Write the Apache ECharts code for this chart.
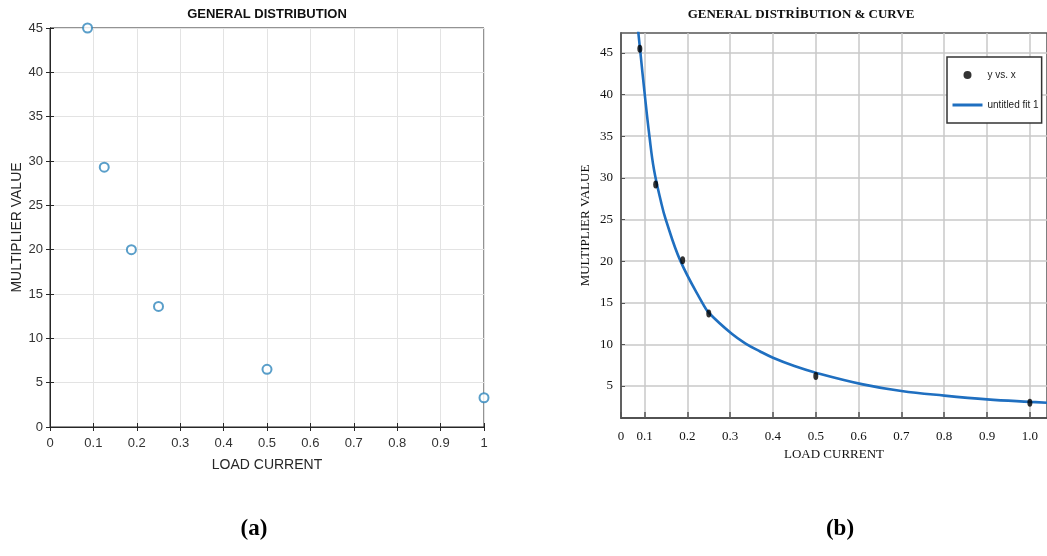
<!DOCTYPE html>
<html>
<head>
<meta charset="utf-8">
<script src="https://cdn.jsdelivr.net/npm/echarts@6/dist/echarts.min.js"></script>
<style>html,body{margin:0;padding:0;background:#fff}#c{width:1047px;height:556px}</style>
</head>
<body>
<div id="c"></div>
<script>
// ---- Data ----
var loadCurrentA = [0.0865, 0.125, 0.1875, 0.25, 0.5, 1.0];
var multiplierA  = [45, 29.3, 20, 13.6, 6.5, 3.3];

var loadCurrentB = [0.089, 0.126, 0.189, 0.25, 0.5, 1.0];
var multiplierB  = [45.5, 29.2, 20.1, 13.7, 6.2, 3.0];

var fitX = [0.0848, 0.0904, 0.1005, 0.1114, 0.122, 0.139, 0.1495, 0.184, 0.237, 0.25, 0.303, 0.336, 0.37, 0.4, 0.45, 0.5, 0.61, 0.7, 0.8, 0.9, 1.0, 1.04];
var fitY = [47.8, 45, 40, 35, 31, 27, 25, 20, 14.8, 13.8, 11.3, 10.1, 9.15, 8.4, 7.4, 6.6, 5.2, 4.4, 3.85, 3.4, 3.1, 3.0];

var xTicksA = [0, 0.1, 0.2, 0.3, 0.4, 0.5, 0.6, 0.7, 0.8, 0.9, 1];
var yTicksA = [0, 5, 10, 15, 20, 25, 30, 35, 40, 45];
var xTicksB = [0.045, 0.1, 0.2, 0.3, 0.4, 0.5, 0.6, 0.7, 0.8, 0.9, 1.0];
var xTickLabelsB = ['0', '0.1', '0.2', '0.3', '0.4', '0.5', '0.6', '0.7', '0.8', '0.9', '1.0'];
var yTicksB = [5, 10, 15, 20, 25, 30, 35, 40, 45];

function zip(a, b) { return a.map(function (v, i) { return [v, b[i]]; }); }

var sans = 'Liberation Sans, Arial, sans-serif';
var serif = 'Liberation Serif, Times New Roman, serif';

var chart = echarts.init(document.getElementById('c'));
chart.setOption({
  animation: false,
  backgroundColor: '#fff',
  grid: [
    { left: 50, top: 28, width: 434, height: 399, show: true, borderColor: '#262626', borderWidth: 1, backgroundColor: 'transparent' },
    { left: 621, top: 33, width: 426, height: 385, show: true, borderColor: '#555', borderWidth: 1.5, backgroundColor: 'transparent' }
  ],
  xAxis: [
    { gridIndex: 0, type: 'value', min: 0, max: 1, interval: 0.1, position: 'bottom',
      name: 'LOAD CURRENT', nameLocation: 'middle', nameGap: 31,
      nameTextStyle: { fontFamily: sans, fontSize: 14, color: '#262626' },
      axisLine: { show: true, lineStyle: { color: '#262626', width: 1 } },
      axisTick: { show: true, inside: true, length: 4, lineStyle: { color: '#262626' } },
      axisLabel: { fontFamily: sans, fontSize: 13, color: '#333', margin: 10,
        formatter: function (v) { var i = xTicksA.findIndex(function (t) { return Math.abs(t - v) < 1e-6; }); return i >= 0 ? String(xTicksA[i]) : ''; } },
      splitLine: { show: true, lineStyle: { color: '#e3e3e3', width: 1 } } },
    { gridIndex: 0, type: 'value', min: 0, max: 1, interval: 0.1, position: 'top',
      axisLine: { show: true, lineStyle: { color: '#262626' } },
      axisTick: { show: true, inside: true, length: 4, lineStyle: { color: '#262626' } },
      axisLabel: { show: false }, splitLine: { show: false } },
    { gridIndex: 1, type: 'value', min: 0.045, max: 1.04, position: 'bottom',
      name: 'LOAD CURRENT', nameLocation: 'middle', nameGap: 30,
      nameTextStyle: { fontFamily: serif, fontSize: 13, color: '#111' },
      axisLine: { show: true, onZero: false, lineStyle: { color: '#444', width: 1.5 } },
      axisTick: { show: true, inside: true, length: 6, customValues: xTicksB, lineStyle: { color: '#555', width: 1.5 } },
      axisLabel: { fontFamily: serif, fontSize: 13, color: '#111', margin: 12, customValues: xTicksB,
        formatter: function (v) { var i = xTicksB.findIndex(function (t) { return Math.abs(t - v) < 1e-6; }); return i >= 0 ? xTickLabelsB[i] : ''; } },
      splitLine: { show: true, lineStyle: { color: '#c8c8c8', width: 1.5 } } }
  ],
  yAxis: [
    { gridIndex: 0, type: 'value', min: 0, max: 45, interval: 5,
      name: 'MULTIPLIER VALUE', nameLocation: 'middle', nameGap: 25, nameRotate: 90,
      nameTextStyle: { fontFamily: sans, fontSize: 14, color: '#262626' },
      axisLine: { show: true, lineStyle: { color: '#262626' } },
      axisTick: { show: true, inside: true, length: 4, lineStyle: { color: '#262626' } },
      axisLabel: { fontFamily: sans, fontSize: 13, color: '#333', margin: 7 },
      splitLine: { show: true, lineStyle: { color: '#e3e3e3', width: 1 } } },
    { gridIndex: 0, type: 'value', min: 0, max: 45, interval: 5, position: 'right',
      axisLine: { show: true, lineStyle: { color: '#262626' } },
      axisTick: { show: true, inside: true, length: 4, lineStyle: { color: '#262626' } },
      axisLabel: { show: false }, splitLine: { show: false } },
    { gridIndex: 1, type: 'value', min: 1.16, max: 47.4,
      name: 'MULTIPLIER VALUE', nameLocation: 'middle', nameGap: 29, nameRotate: 90,
      nameTextStyle: { fontFamily: serif, fontSize: 13, color: '#111' },
      axisLine: { show: true, onZero: false, lineStyle: { color: '#444', width: 1.5 } },
      axisTick: { show: true, inside: true, length: 4, customValues: yTicksB, lineStyle: { color: '#555' } },
      axisLabel: { fontFamily: serif, fontSize: 13, color: '#111', margin: 8, customValues: yTicksB },
      splitLine: { show: true, lineStyle: { color: '#c8c8c8', width: 1.5 } } }
  ],
  legend: {
    left: 947, top: 57, orient: 'vertical', align: 'left',
    backgroundColor: '#fff', borderColor: '#333', borderWidth: 1.5,
    padding: [13, 3, 13, 4], itemGap: 20, itemWidth: 30, itemHeight: 8,
    textStyle: { fontFamily: sans, fontSize: 10, color: '#222' },
    data: [
      { name: 'y vs. x', icon: 'circle', itemStyle: { color: '#000' } },
      { name: 'untitled fit 1', itemStyle: { opacity: 0 }, lineStyle: { color: '#1f6fc0', width: 3 } }
    ]
  },
  graphic: [
    { type: 'text', style: { text: 'GENERAL DISTRIBUTION', x: 267, y: 8, align: 'center', font: 'bold 13px ' + sans, fill: '#111' } },
    { type: 'text', style: { text: 'GENERAL DISTRİBUTION & CURVE', x: 801, y: 8, align: 'center', font: 'bold 13px ' + serif, fill: '#111' } },
    { type: 'text', style: { text: '(a)', x: 254, y: 518, align: 'center', font: 'bold 23px ' + serif, fill: '#000' } },
    { type: 'text', style: { text: '(b)', x: 840, y: 518, align: 'center', font: 'bold 23px ' + serif, fill: '#000' } }
  ],
  series: [
    { type: 'scatter', xAxisIndex: 0, yAxisIndex: 0, data: zip(loadCurrentA, multiplierA),
      symbol: 'emptyCircle', symbolSize: 9,
      itemStyle: { color: '#2f86bb', borderWidth: 1.1 } },
    { type: 'line', name: 'untitled fit 1', xAxisIndex: 2, yAxisIndex: 2, data: zip(fitX, fitY),
      smooth: 0.4, showSymbol: false, symbol: 'none', clip: true,
      lineStyle: { color: '#1f6fc0', width: 2.6 }, itemStyle: { color: '#1f6fc0' } },
    { type: 'scatter', name: 'y vs. x', xAxisIndex: 2, yAxisIndex: 2, data: zip(loadCurrentB, multiplierB),
      symbol: 'circle', symbolSize: [5, 8], itemStyle: { color: '#000' }, z: 5 }
  ]
});
</script>
</body>
</html>
